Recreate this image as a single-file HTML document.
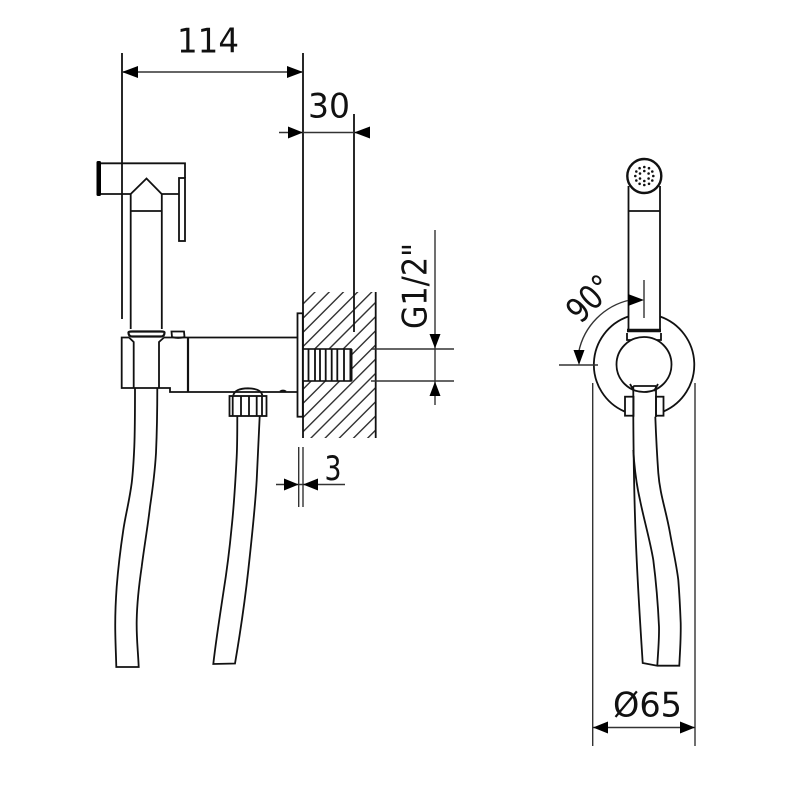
<!DOCTYPE html>
<html><head><meta charset="utf-8"><style>
html,body{margin:0;padding:0;background:#fff}
svg{display:block}
text{font-family:"DejaVu Sans","Liberation Sans",sans-serif;font-size:34px;fill:#111}
.l{fill:none;stroke:#111;stroke-width:1.8}
.t{fill:none;stroke:#333;stroke-width:1.4}
.h{fill:none;stroke:#111;stroke-width:2.4}
.w{fill:#fff;stroke:#111;stroke-width:1.8}
</style></head><body>
<svg width="800" height="800" viewBox="0 0 800 800" xmlns="http://www.w3.org/2000/svg">
<rect width="800" height="800" fill="#fff"/>
<defs><clipPath id="c"><rect x="303" y="292" width="72.5" height="146"/></clipPath></defs>

<!-- hatching -->
<g clip-path="url(#c)" class="t">
<path d="M329 278L129 478M343.200 278L143.200 478M357.400 278L157.400 478M371.600 278L171.600 478M385.800 278L185.800 478M400 278L200 478M414.200 278L214.200 478M428.400 278L228.400 478M442.600 278L242.600 478M456.800 278L256.800 478M471 278L271 478M485.200 278L285.200 478M499.400 278L299.400 478M513.600 278L313.600 478M527.800 278L327.800 478M542 278L342 478"/>
</g>
<path class="l" d="M303 53V438M375.700 292V438"/>
<path class="l" d="M354 114V332"/>

<!-- thread -->
<rect x="303" y="349" width="48" height="32" fill="#fff" stroke="#111" stroke-width="1.6"/>
<path class="l" d="M308.500 349V381M315 349V381M320 349V381M325.700 349V381M331.700 349V381M337.300 349V381M344 349V381"/>
<path d="M351 349V381" fill="none" stroke="#111" stroke-width="3"/>

<!-- escutcheon -->
<rect x="297.500" y="313.300" width="5.300" height="103.400" class="w"/>

<!-- head -->
<path class="l" d="M122 53V319"/>
<rect x="96.500" y="161" width="4.500" height="35" rx="1.500" fill="#000"/>
<path class="l" d="M101 163.300H185V178M101 194H130.700L146.500 178.500L161.700 194H179"/>
<rect x="179" y="178" width="6" height="63" class="w"/>
<path class="l" d="M130.700 194V329M161.800 194V329M130.700 211H161.800"/>

<!-- body -->
<path d="M128.500 332.500Q128.500 336.500 132 336.500H161Q164.500 336.500 164.500 332.500Q164.500 331.500 161 331.500H132Q128.500 331.500 128.500 332.500Z" fill="#fff" stroke="#111" stroke-width="2.200"/>
<path class="l" d="M129 337.500H121.700V388H170V392H298M129 337.500L133.700 342V388M164 337.500L159 342V388M164 337.500H298"/>
<path d="M188 337V392" fill="none" stroke="#111" stroke-width="2.200"/>
<path class="l" d="M172 337L171.500 331.500H184L184.500 337Q178 339 172 337Z"/>
<path d="M280 391.500Q283 389.500 286 391.500" class="l"/>

<!-- nut -->
<path class="l" d="M233.300 395.300Q235 388.500 248 388.300Q261 388.500 262.300 395.300"/>
<rect x="229.500" y="396" width="37" height="20" class="w"/>
<path class="l" d="M232.700 396V416M241 396V416M249 396V416M256.700 396V416M262 396V416"/>

<!-- hose 1 -->
<path class="l" d="M135 388C135 410 135 430 134.300 446.700C133.500 465 133 472 131.700 483C129 503 125.500 515 123.300 530C120 552 118 570 116.700 586.700C115.600 602 115 618 115.300 633C115.500 645 116 655 116.300 667H138.700C138 650 136.300 638 136.700 620C137 605 139 585 141.700 566.700C144 548 148 525 150 506.700C152.500 490 155 470 156 453C157 430 157.300 410 157.300 388"/>
<!-- hose 2 -->
<path class="l" d="M237.300 416C237.300 430 237.300 445 236.700 456.700C235.500 480 234 505 231.700 526.700C229.500 550 227 570 223.300 593C220 615 216 640 213.300 664L235 663.500C239 640 245 600 248.300 570C251 545 255 510 256.700 480C258 455 259 435 259.700 416"/>

<!-- 114 -->
<path class="t" d="M122 72H303"/>
<path d="M122 72L138 66V78ZM303 72L287 66V78Z" fill="#000"/>
<text x="208" y="52.500" text-anchor="middle" textLength="62" lengthAdjust="spacingAndGlyphs">114</text>
<!-- 30 -->
<path class="t" d="M279 132.500H370"/>
<path d="M303 132.500L288 126.500V138.500ZM354 132.500L370 126.500V138.500Z" fill="#000"/>
<text x="329" y="117.700" text-anchor="middle" textLength="42" lengthAdjust="spacingAndGlyphs">30</text>
<!-- G1/2 -->
<path class="t" d="M435 230V405M371 349H454M371 381H454"/>
<path d="M435 348.500L429.500 334H440.500ZM435 381.500L429.500 396H440.500Z" fill="#000"/>
<text transform="translate(426.500 329) rotate(-90)" textLength="86" lengthAdjust="spacingAndGlyphs">G1/2"</text>
<!-- 3 -->
<path class="t" d="M298.700 447V507M303 447V507M276 484.500H345"/>
<path d="M298.700 484.500L284 478.500V490.500ZM303 484.500L318 478.500V490.500Z" fill="#000"/>
<text x="333" y="480" text-anchor="middle" textLength="17" lengthAdjust="spacingAndGlyphs">3</text>

<!-- right view: head -->
<circle cx="644.300" cy="176" r="17" fill="#fff" stroke="#111" stroke-width="2.400"/>
<g fill="#111">
<circle cx="644.300" cy="167" r="1.300"/><circle cx="649" cy="168.200" r="1.300"/><circle cx="652.300" cy="171.500" r="1.300"/><circle cx="653.300" cy="176" r="1.300"/><circle cx="652.300" cy="180.500" r="1.300"/><circle cx="649" cy="183.800" r="1.300"/><circle cx="644.300" cy="185" r="1.300"/><circle cx="639.600" cy="183.800" r="1.300"/><circle cx="636.300" cy="180.500" r="1.300"/><circle cx="635.300" cy="176" r="1.300"/><circle cx="636.300" cy="171.500" r="1.300"/><circle cx="639.600" cy="168.200" r="1.300"/>
<circle cx="644.300" cy="171" r="1.300"/><circle cx="648.600" cy="173.500" r="1.300"/><circle cx="648.600" cy="178.500" r="1.300"/><circle cx="644.300" cy="181" r="1.300"/><circle cx="640" cy="178.500" r="1.300"/><circle cx="640" cy="173.500" r="1.300"/>
</g>
<path class="l" d="M628.500 186V330M660 186V330M628.500 211H660"/>

<!-- right view: rosette -->
<path class="l" d="M628.300 316.500A51 51 0 0 0 624.500 411.500M660 316.500A51 51 0 0 1 663.500 411.500"/>
<path d="M627 330.500H661" fill="none" stroke="#111" stroke-width="3.500"/>
<path class="l" d="M627 333V340H661V333"/>
<circle cx="644" cy="364.500" r="27.500" class="w"/>
<path class="l" d="M630 384L634 391M658 384L654 391"/>
<rect x="625" y="396.700" width="8.500" height="19" class="w"/>
<rect x="656" y="396.700" width="7.500" height="19" class="w"/>
<path class="l" d="M633.300 386V417M656 386V417M633.300 386H656"/>

<!-- right view: hoses -->
<path class="l" d="M633.300 416.700C633.500 450 634 485 635 516.700C636.500 570 640 620 642.700 663L657.300 665.700H679.300C680 650 681 640 680.700 623C680 605 679.500 595 678.300 580C676.500 565 673 550 670 533C666 510 660 495 658.300 473C657 455 656 435 655.300 416.700"/>
<path class="l" d="M633.300 450C634.500 470 636.500 485 640 500C644 520 650 540 653.300 560C656.500 585 658 605 659 626.700C659.300 640 658 652 657.300 665.700"/>

<!-- right view: dims -->
<path class="t" d="M592.700 383V746M695 383V746M593 727.500H695"/>
<path d="M593 727.500L608 721.500V733.500ZM695 727.500L680 721.500V733.500Z" fill="#000"/>
<text x="647.500" y="716.500" text-anchor="middle" textLength="69" lengthAdjust="spacingAndGlyphs">Ø65</text>

<path class="t" d="M559 365H598M644 280V318"/>
<path class="t" d="M630 300A67 67 0 0 0 578.700 352"/>
<path d="M644 300L628 294V306ZM579 365L573.500 350H584.500Z" fill="#000"/>
<text transform="translate(598 307) rotate(-45)" text-anchor="middle" textLength="50" lengthAdjust="spacingAndGlyphs">90°</text>
</svg>
</body></html>
